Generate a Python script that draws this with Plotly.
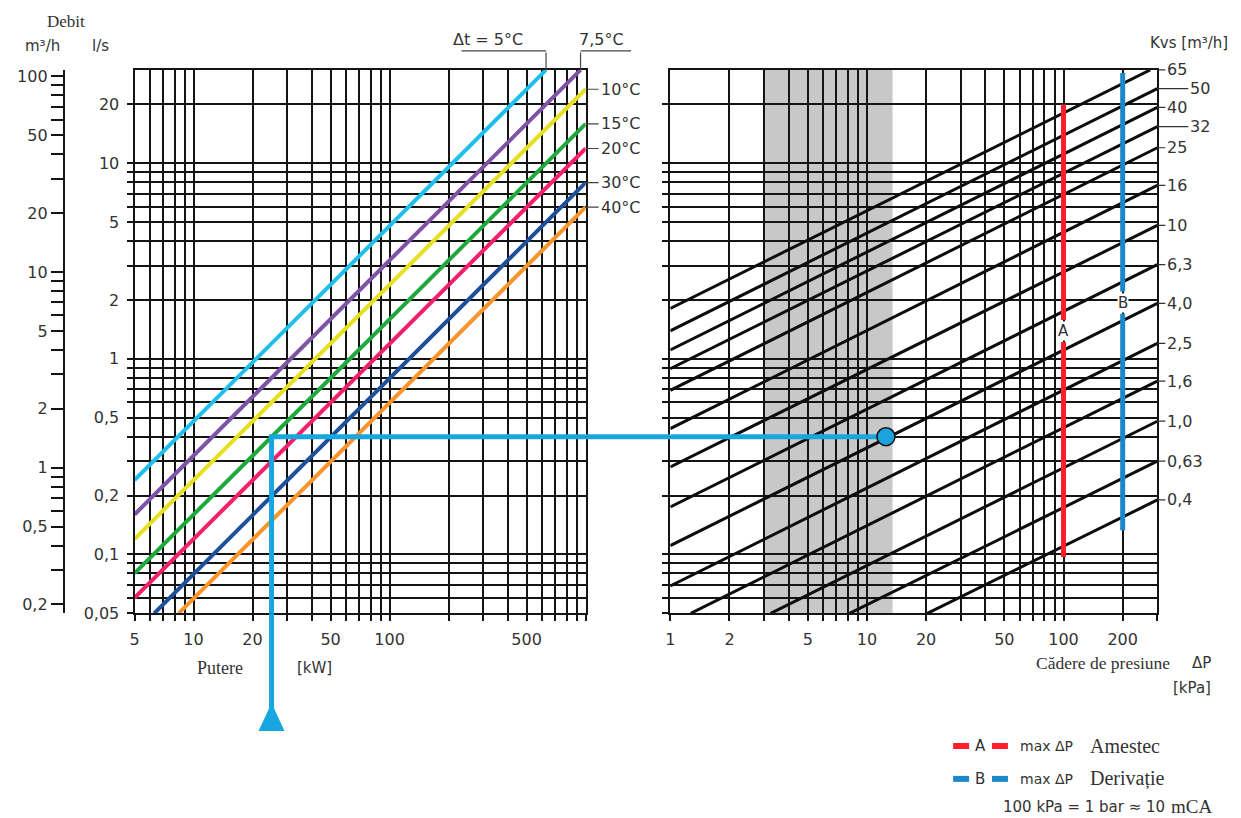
import math
import plotly.graph_objects as go

# ---------------- data ----------------
# Left panel: heating power [kW] vs flow [l/s], one line per temperature difference Δt
dt_names = ["5°C", "7,5°C", "10°C", "15°C", "20°C", "30°C", "40°C"]
dt_colors = ["#1dbfed", "#7d52a8", "#e6e020", "#1fa83c", "#f5206b", "#1d4f9c", "#f9952c"]
dt_p_start = [5, 5, 5, 5, 5, 6.3, 8.4]
dt_q_start = [0.24, 0.16, 0.12, 0.08, 0.06, 0.05, 0.05]
dt_p_end = [628, 942, 1000, 1000, 1000, 1000, 1000]
dt_q_end = [30, 30, 23.9, 15.9, 11.9, 7.96, 5.97]

# Right panel: valve Kvs lines, pressure drop [kPa] vs flow [l/s]
kvs_labels = ["65", "50", "40", "32", "25", "16", "10", "6,3", "4,0", "2,5", "1,6", "1,0", "0,63", "0,4"]
kvs_dp_start = [1, 1, 1, 1, 1, 1, 1, 1, 1, 1, 1.27, 3.24, 8.16, 20.3]
kvs_q_start = [1.81, 1.39, 1.11, 0.89, 0.69, 0.44, 0.28, 0.175, 0.111, 0.069, 0.05, 0.05, 0.05, 0.05]
kvs_dp_end = [276, 300, 300, 300, 300, 300, 300, 300, 300, 300, 300, 300, 300, 300]
kvs_q_end = [30, 24.1, 19.3, 15.4, 12.0, 7.7, 4.81, 3.03, 1.92, 1.20, 0.77, 0.48, 0.30, 0.19]
kvs_long_leader = ["50", "32"]

# max ΔP markers
a_dp = 100
a_q_top = [20.0, 1.58]
a_q_bottom = [1.22, 0.097]
a_q_label = 1.39
b_dp = 200
b_q_top = [28.9, 2.21]
b_q_bottom = [1.70, 0.133]
b_q_label = 1.94

# worked example
ex_power = 25
ex_flow = 0.4
ex_dp = 12.5

# shaded band on pressure-drop axis
band_dp = [3, 13.5]

# axes
power_range = [5, 1000]
flow_range = [0.05, 30]
dp_range = [1, 300]
m3h_range = [0.18, 108]

power_grid = [5, 6, 7, 8, 9, 10, 20, 30, 40, 50, 60, 70, 80, 90, 100, 200, 300, 400, 500, 600, 700, 800, 900, 1000]
power_labels = {5: "5", 10: "10", 20: "20", 50: "50", 100: "100", 500: "500"}
flow_grid = [0.05, 0.06, 0.07, 0.08, 0.09, 0.1, 0.2, 0.3, 0.4, 0.5, 0.6, 0.7, 0.8, 0.9,
             1, 2, 3, 4, 5, 6, 7, 8, 9, 10, 20]
flow_labels = {0.05: "0,05", 0.1: "0,1", 0.2: "0,2", 0.5: "0,5", 1: "1", 2: "2", 5: "5", 10: "10", 20: "20"}
dp_grid = [1, 2, 3, 4, 5, 6, 7, 8, 9, 10, 20, 30, 40, 50, 60, 70, 80, 90, 100, 200, 300]
dp_labels = {1: "1", 2: "2", 5: "5", 10: "10", 20: "20", 50: "50", 100: "100", 200: "200"}
m3h_ticks = [0.2, 0.3, 0.4, 0.5, 0.6, 0.7, 0.8, 0.9, 1, 2, 3, 4, 5, 6, 7, 8, 9,
             10, 20, 30, 40, 50, 60, 70, 80, 90, 100]
m3h_labels = {0.2: "0,2", 0.5: "0,5", 1: "1", 2: "2", 5: "5", 10: "10", 20: "20", 50: "50", 100: "100"}

# ---------------- figure ----------------
OFF = 8      # page body margin
KY = 0.987   # observed vertical scale of the photographed page
W = 1241 - 2 * OFF
H = round(818 / KY - OFF)
SANS = "DejaVu Sans"
SERIF = "Liberation Serif"
TXT = "#333333"
EX_BLUE = "#18a6e0"
INK = "#141414"


def px(x):
    return (x - OFF) / W


def py(y):
    return 1 - (y / KY - OFF) / H


LEFT_DOM = [px(130), px(583)]
RIGHT_DOM = [px(668), px(1157)]
Y_DOM = [py(612), py(67)]

fig = go.Figure()


def lg(v):
    return math.log10(v)


grid_style = dict(showgrid=True, gridcolor=INK, gridwidth=1.7, showline=True,
                  linecolor=INK, linewidth=2, mirror=True, ticks="outside",
                  ticklen=6, tickwidth=1.7, tickcolor=INK, zeroline=False,
                  tickfont=dict(family=SANS, size=16, color=TXT), tickmode="array",
                  ticklabelstandoff=4)

fig.update_layout(
    width=W, height=H, margin=dict(l=0, r=0, t=0, b=0), autosize=False,
    paper_bgcolor="white", plot_bgcolor="white", showlegend=False,
    xaxis=dict(type="log", domain=LEFT_DOM, range=[lg(power_range[0]), lg(power_range[1])],
               anchor="y", tickvals=power_grid,
               ticktext=[power_labels.get(v, "") for v in power_grid], **grid_style),
    yaxis=dict(type="log", domain=Y_DOM, range=[lg(flow_range[0]), lg(flow_range[1])],
               anchor="x", tickvals=flow_grid,
               ticktext=[flow_labels.get(v, "") for v in flow_grid], **grid_style),
    xaxis2=dict(type="log", domain=RIGHT_DOM, range=[lg(dp_range[0]), lg(dp_range[1])],
                anchor="y2", tickvals=dp_grid,
                ticktext=[dp_labels.get(v, "") for v in dp_grid], **grid_style),
    yaxis2=dict(type="log", domain=Y_DOM, range=[lg(flow_range[0]), lg(flow_range[1])],
                anchor="x2", tickvals=flow_grid, showticklabels=False, **grid_style),
    yaxis3=dict(type="log", overlaying="y", anchor="free", position=px(59), side="left",
                range=[lg(m3h_range[0]), lg(m3h_range[1])], tickmode="array",
                tickvals=m3h_ticks, ticktext=[m3h_labels.get(v, "") for v in m3h_ticks],
                showgrid=False, showline=True, linecolor=INK, linewidth=2,
                ticks="outside", ticklen=12, tickwidth=1.7, tickcolor=INK,
                zeroline=False, tickfont=dict(family=SANS, size=16, color=TXT)),
)

# dummy trace so the m3/h axis is drawn
fig.add_trace(go.Scatter(x=[power_range[0]], y=[1], xaxis="x", yaxis="y3", mode="markers",
                         marker=dict(opacity=0), hoverinfo="skip"))

# shaded band
fig.add_shape(type="rect", xref="x2", yref="y2 domain", x0=band_dp[0], x1=band_dp[1],
              y0=0, y1=1, fillcolor="#c8c8c8", line=dict(width=0), layer="below")

# Δt lines
for name, c, p0, q0, p1, q1 in zip(dt_names, dt_colors, dt_p_start, dt_q_start, dt_p_end, dt_q_end):
    fig.add_trace(go.Scatter(x=[p0, p1], y=[q0, q1], xaxis="x", yaxis="y", mode="lines",
                             line=dict(color=c, width=4), name=name, hoverinfo="skip"))

# Kvs lines
for lab, d0, q0, d1, q1 in zip(kvs_labels, kvs_dp_start, kvs_q_start, kvs_dp_end, kvs_q_end):
    fig.add_trace(go.Scatter(x=[d0, d1], y=[q0, q1], xaxis="x2", yaxis="y2", mode="lines",
                             line=dict(color="#0d0d0d", width=3), name="Kvs " + lab,
                             hoverinfo="skip"))

# max ΔP A / B
fig.add_trace(go.Scatter(x=[a_dp, a_dp, None, a_dp, a_dp],
                         y=[a_q_top[0], a_q_top[1], None, a_q_bottom[0], a_q_bottom[1]],
                         xaxis="x2", yaxis="y2", mode="lines",
                         line=dict(color="#ff1f2a", width=5), hoverinfo="skip"))
fig.add_trace(go.Scatter(x=[b_dp, b_dp, None, b_dp, b_dp],
                         y=[b_q_top[0], b_q_top[1], None, b_q_bottom[0], b_q_bottom[1]],
                         xaxis="x2", yaxis="y2", mode="lines",
                         line=dict(color="#1c87c9", width=5), hoverinfo="skip"))
for dpv, qv, letter in [(a_dp, a_q_label, "A"), (b_dp, b_q_label, "B")]:
    fig.add_annotation(x=lg(dpv), y=lg(qv), xref="x2", yref="y2", text=letter, showarrow=False,
                       bgcolor="white", borderpad=0,
                       font=dict(family=SANS, size=15, color=TXT))

# worked example path
fig.add_trace(go.Scatter(x=[ex_power, ex_power, power_range[1]], y=[flow_range[0], ex_flow, ex_flow],
                         xaxis="x", yaxis="y", mode="lines",
                         line=dict(color=EX_BLUE, width=5), hoverinfo="skip"))
fig.add_trace(go.Scatter(x=[dp_range[0], ex_dp], y=[ex_flow, ex_flow], xaxis="x2", yaxis="y2",
                         mode="lines", line=dict(color=EX_BLUE, width=5), hoverinfo="skip"))
fig.add_trace(go.Scatter(x=[ex_dp], y=[ex_flow], xaxis="x2", yaxis="y2", mode="markers",
                         marker=dict(size=18, color="#1aa3dd", line=dict(color="#111", width=1.5)),
                         hoverinfo="skip"))


def seg(x, y, ax, ay, xref, yref, color, width, xshift=0, yshift=0):
    fig.add_annotation(x=x, y=y, xref=xref, yref=yref, ax=ax, ay=ay, showarrow=True,
                       arrowhead=0, arrowwidth=width, arrowcolor=color, text="",
                       font=dict(size=1), xshift=xshift, yshift=yshift,
                       standoff=0, startstandoff=0)


# example path segments outside the plot areas
seg(lg(ex_power), lg(flow_range[0]), 0, 101, "x", "y", EX_BLUE, 5)
seg(lg(power_range[1]), lg(ex_flow), 86, 0, "x", "y", EX_BLUE, 5)
# arrow head under the example path (pixel-sized path anchored at the example power)
fig.add_shape(type="path", xref="x", yref="paper", xsizemode="pixel", ysizemode="pixel",
              xanchor=ex_power, yanchor=0, path="M-13,88 L13,88 L0,116 Z",
              fillcolor=EX_BLUE, line=dict(width=0))

# Δt = 5 and 7,5 brackets
seg(lg(dt_p_end[0]), lg(dt_q_end[0]), 0, -19, "x", "y", "#444", 1.2)
seg(lg(dt_p_end[0]), lg(dt_q_end[0]), -86, 0, "x", "y", "#444", 1.2, yshift=19)
seg(lg(dt_p_end[1]), lg(dt_q_end[1]), 0, -19, "x", "y", "#444", 1.2)
seg(lg(dt_p_end[1]), lg(dt_q_end[1]), 52, 0, "x", "y", "#444", 1.2, yshift=19)
fig.add_annotation(x=lg(dt_p_end[0]), y=lg(dt_q_end[0]), xref="x", yref="y", showarrow=False,
                   text="Δt = " + dt_names[0], xshift=-58, yshift=30,
                   font=dict(family=SANS, size=16, color=TXT))
fig.add_annotation(x=lg(dt_p_end[1]), y=lg(dt_q_end[1]), xref="x", yref="y", showarrow=False,
                   text=dt_names[1], xshift=21, yshift=30,
                   font=dict(family=SANS, size=16, color=TXT))

# other Δt labels at right side of the left panel
for name, q1 in zip(dt_names[2:], dt_q_end[2:]):
    fig.add_annotation(x=1, y=lg(q1), xref="x domain", yref="y", text=name, showarrow=True,
                       arrowhead=0, arrowwidth=1.2, arrowcolor="#444", ax=13, ay=0,
                       xanchor="left", standoff=0, font=dict(family=SANS, size=16, color=TXT))

# Kvs labels
for lab, q1 in zip(kvs_labels, kvs_q_end):
    off = 31 if lab in kvs_long_leader else 8
    fig.add_annotation(x=1, y=lg(q1), xref="x2 domain", yref="y2", text=lab, showarrow=True,
                       arrowhead=0, arrowwidth=1.2, arrowcolor="#333", ax=off, ay=0,
                       xanchor="left", standoff=0, font=dict(family=SANS, size=16, color=TXT))


def txt(x, y, s, family=SANS, size=15, anchor="center"):
    fig.add_annotation(x=px(x), y=py(y), xref="paper", yref="paper", text=s, showarrow=False,
                       xanchor=anchor, yanchor="middle", font=dict(family=family, size=size, color=TXT))


txt(61, 18, "Debit", SERIF, 17)
txt(38, 43, "m³/h", SANS, 15)
txt(96, 43, "l/s", SANS, 15)
txt(1189, 40, "Kvs [m³/h]", SANS, 15)
txt(216, 667, "Putere", SERIF, 18)
txt(311, 667, "[kW]", SANS, 15)
txt(1172, 662, "Cădere de presiune", SERIF, 17.5, "right")
txt(1213, 662, "ΔP", SANS, 15, "right")
txt(1213, 687, "[kPa]", SANS, 15, "right")

# legend
for yy, col, letter, word in [(745, "#ff1f2a", "A", "Amestec"), (778, "#1c87c9", "B", "Derivație")]:
    fig.add_shape(type="line", xref="paper", yref="paper", x0=px(952), x1=px(968), y0=py(yy), y1=py(yy),
                  line=dict(color=col, width=6))
    fig.add_shape(type="line", xref="paper", yref="paper", x0=px(991), x1=px(1007), y0=py(yy), y1=py(yy),
                  line=dict(color=col, width=6))
    txt(979, yy, letter, SANS, 15)
    txt(1017, yy, "max ΔP", SANS, 14, "left")
    txt(1087, yy, word, SERIF, 20, "left")
txt(1000, 806, "100 kPa = 1 bar ≈ 10", SANS, 15, "left")
txt(1214, 806, "mCA", SERIF, 19, "right")

fig.write_html("out.html")
